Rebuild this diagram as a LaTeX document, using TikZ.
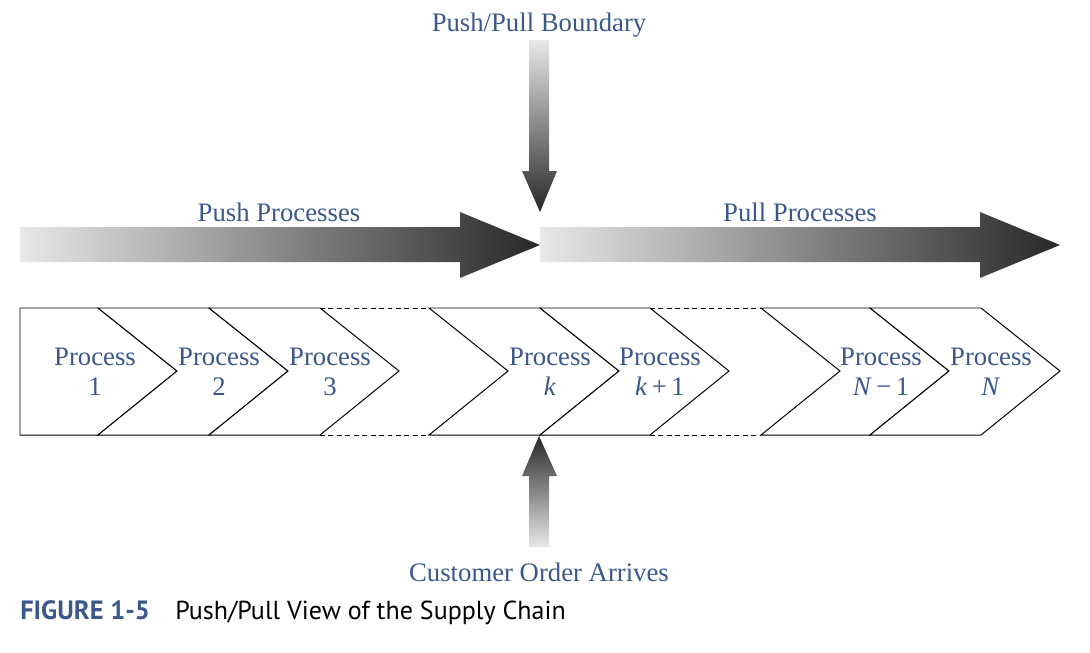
\documentclass[tikz,border=0pt]{standalone}
\usepackage{fontspec}
\setmainfont{Liberation Serif}
\newfontfamily\capfont{PT Sans}
\usepackage{tikz}
\definecolor{labelblue}{RGB}{58,88,140}
\definecolor{shadelight}{RGB}{232,232,232}
\definecolor{shadedark}{RGB}{40,40,40}

\begin{document}
\begin{tikzpicture}[x=0.025cm, y=-0.025cm,
    lbl/.style={text=labelblue, font=\fontsize{19}{21}\selectfont, inner sep=0pt},
    proc/.style={lbl, align=center},
    chev/.style={draw=black, line width=0.7pt, fill=white},
    gap/.style={draw=black, line width=0.7pt, dash pattern=on 3.5pt off 2.5pt}]
\useasboundingbox (0,0) rectangle (1090,652);

% big arrows
\shade[left color=shadelight, right color=shadedark]
    (20,227) -- (460,227) -- (460,212) -- (540,245) -- (460,278) -- (460,262) -- (20,262) -- cycle;
\shade[left color=shadelight, right color=shadedark]
    (540,227) -- (980,227) -- (980,212) -- (1060,245) -- (980,278) -- (980,262) -- (540,262) -- cycle;
\shade[top color=shadelight, bottom color=shadedark]
    (529,40) -- (549,40) -- (549,171) -- (557,171) -- (540,212) -- (522,171) -- (529,171) -- cycle;
\shade[top color=shadedark, bottom color=shadelight]
    (539,436) -- (557,476) -- (549,476) -- (549,547) -- (529,547) -- (529,476) -- (522,476) -- cycle;

\node[lbl] (boundary) at (539,25) {Push/Pull Boundary};
\node[lbl] (push) at (279,212) {Push Processes};
\node[lbl] (pull) at (800,212) {Pull Processes};
\node[lbl] (order) at (539,572) {Customer Order Arrives};

% chevrons
\draw[chev] (20,308) -- (98,308) -- (177,371) -- (98,435) -- (20,435) -- cycle;
\foreach \l/\r in {98/209, 209/320, 429/540, 540/650, 761/870, 870/981}
    \draw[chev] (\l,308) -- (\r,308) -- (\r+79,371) -- (\r,435) -- (\l,435) -- (\l+79,371) -- cycle;

\draw[gap] (320,308) -- (429,308);
\draw[gap] (320,435) -- (429,435);
\draw[gap] (650,308) -- (761,308);
\draw[gap] (650,435) -- (761,435);

\node[proc] (p1) at (95,372) {Process\\1};
\node[proc] (p2) at (219,372) {Process\\2};
\node[proc] (p3) at (330,372) {Process\\3};
\node[proc] (pk) at (550,372) {Process\\\textit{k}};
\node[proc] (pk1) at (660,372) {Process\\\textit{k}\,+\,1};
\node[proc] (pn1) at (881,372) {Process\\\textit{N}\,−\,1};
\node[proc] (pn) at (991,372) {Process\\\textit{N}};

% caption
\node[anchor=base west, inner sep=0pt, text=labelblue, font=\capfont\bfseries\fontsize{18.8}{20}\selectfont] (fig) at (20,619) {FIGURE 1-5};
\node[anchor=base west, inner sep=0pt, font=\capfont\fontsize{18.5}{20}\selectfont] (cap) at (175,619) {Push/Pull View of the Supply Chain};
\end{tikzpicture}
\end{document}
